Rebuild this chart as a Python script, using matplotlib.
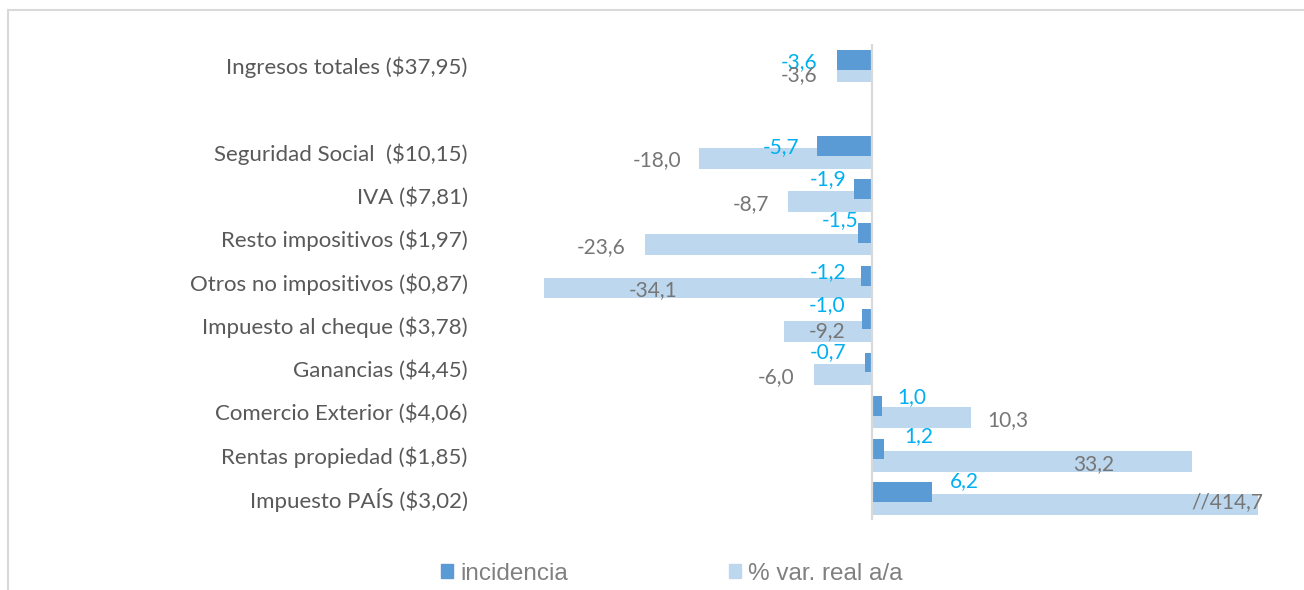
import matplotlib
matplotlib.use("Agg")
import matplotlib.pyplot as plt
from matplotlib.patches import Patch
from matplotlib.lines import Line2D
import numpy as np

# data
categorias = ["Ingresos totales ($37,95)", "",
              "Seguridad Social  ($10,15)", "IVA ($7,81)",
              "Resto impositivos ($1,97)", "Otros no impositivos ($0,87)",
              "Impuesto al cheque ($3,78)", "Ganancias ($4,45)",
              "Comercio Exterior ($4,06)", "Rentas propiedad ($1,85)",
              "Impuesto PAÍS ($3,02)"]
incidencia = [-3.6, np.nan, -5.7, -1.9, -1.5, -1.2, -1.0, -0.7, 1.0, 1.2, 6.2]
var_real = [-3.6, np.nan, -18.0, -8.7, -23.6, -34.1, -9.2, -6.0, 10.3, 33.2, 414.7]

# label offsets in pixels (dx, dy down), hand placed like the original
off_inc = [(-38, 3), None, (-36, 1), (-26, -10), (-18, -13), (-32, -4),
           (-35, -14), (-37, -10), (30, -9), (35, -13), (33, -11)]
off_var = [(-38, 3), None, (-42, 2), (-37, 3), (-44, 2), (109, 2),
           (44, 0), (-38, 2), (37, 2), (-98, 3), (-31, -2)]

c_dark = "#5B9BD5"
c_light = "#BDD7EE"
c_cyan = "#00B0F0"
c_gray = "#767676"

fig = plt.figure(figsize=(13.04, 5.9), dpi=100)
ax = fig.add_axes([540/1304, 1 - 520/590, 718/1304, 476/590])

y = np.arange(len(categorias))
ax.barh(y + 0.14, var_real, height=0.48, color=c_light, zorder=2)
ax.barh(y - 0.14, incidencia, height=0.46, color=c_dark, zorder=3)

xmin, xmax = -34.5, 40.1
ax.set_xlim(xmin, xmax)
ax.set_ylim(len(categorias) - 0.5, -0.5)
ax.axvline(0, color="#D9D9D9", lw=1.6, zorder=4)

fnt = dict(family="Lato", fontsize=15)
for i in range(len(categorias)):
    if np.isnan(incidencia[i]):
        continue
    dx, dy = off_inc[i]
    ax.annotate(f"{incidencia[i]:.1f}".replace(".", ","), (incidencia[i], y[i] - 0.14),
                xytext=(dx, -dy), textcoords="offset pixels",
                ha="center", va="center", color=c_cyan, zorder=5, **fnt)
    dx, dy = off_var[i]
    v = var_real[i]
    txt = f"{v:.1f}".replace(".", ",")
    xv = v
    if v > xmax:
        # bar is cut at the axis edge
        txt = "//" + txt
        xv = xmax
    ax.annotate(txt, (xv, y[i] + 0.14),
                xytext=(dx, -dy), textcoords="offset pixels",
                ha="center", va="center", color=c_gray, zorder=5, **fnt)

ax.set_yticks(y)
ax.set_yticklabels(categorias, family="Lato", fontsize=16, color="#595959")
ax.tick_params(axis="y", length=0, pad=52)
ax.set_xticks([])
for s in ax.spines.values():
    s.set_visible(False)

# outer frame (top and left only visible)
fig.add_artist(Line2D([8/1304, 1], [1 - 10/590, 1 - 10/590], color="#D9D9D9", lw=1.5))
fig.add_artist(Line2D([8/1304, 8/1304], [0, 1 - 10/590], color="#D9D9D9", lw=1.5))

handles = [Patch(color=c_dark, label="incidencia"),
           Patch(color=c_light, label="% var. real a/a")]
leg = fig.legend(handles=handles, loc="center", bbox_to_anchor=(672/1304, 1 - 574/590),
                 ncol=2, frameon=False, handlelength=0.5, handleheight=0.5,
                 handletextpad=0.3, columnspacing=6.6, borderpad=0, borderaxespad=0,
                 prop=dict(family="Liberation Sans", size=17.5))
for t in leg.get_texts():
    t.set_color("#808080")

fig.savefig("out.png", dpi=100)
